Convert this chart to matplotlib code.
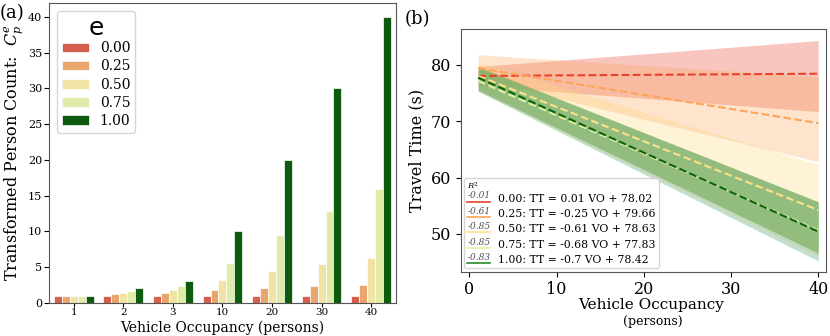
"""Transformed person counts and travel time vs vehicle occupancy."""

import matplotlib
matplotlib.use("Agg")
from matplotlib import pyplot as plt
from matplotlib.legend_handler import HandlerBase
from matplotlib.lines import Line2D
from matplotlib.text import Text
import numpy as np

plt.rcParams["font.family"] = ["DejaVu Serif"]
plt.rcParams["mathtext.fontset"] = "dejavuserif"

# ---- panel (a) data ----
occupancy_labels = ["1", "2", "3", "10", "20", "30", "40"]
e_levels = ["0.00", "0.25", "0.50", "0.75", "1.00"]
counts = {
    "0.00": [1, 1, 1, 1, 1, 1, 1],
    "0.25": [1, 1.19, 1.32, 1.78, 2.11, 2.34, 2.51],
    "0.50": [1, 1.41, 1.73, 3.16, 4.47, 5.48, 6.32],
    "0.75": [1, 1.68, 2.28, 5.62, 9.46, 12.82, 15.9],
    "1.00": [1, 2, 3, 10, 20, 30, 40],
}
bar_colors = ["#d6604d", "#e8a56e", "#f2e2a6", "#e0eaa9", "#0e5a0e"]

# ---- panel (b) data ----
vo_range = [1, 40]
slopes = [0.01, -0.25, -0.61, -0.68, -0.7]
intercepts = [78.02, 79.66, 78.63, 77.83, 78.42]
r2_values = ["-0.01", "-0.61", "-0.85", "-0.85", "-0.83"]
band_low = [[76.3, 71.7], [77.5, 62.8], [75.2, 46.0], [75.3, 45.2], [75.5, 46.6]]
band_high = [[79.7, 84.3], [81.8, 77.9], [80.5, 62.3], [79.5, 55.7], [79.7, 55.7]]
line_colors = ["#e8412c", "#fca55a", "#fde08a", "#e3f0a0", "#0a640a"]
legend_colors = ["#e8412c", "#fca55a", "#fde08a", "#e3f0a0", "#2a8a2a"]
band_colors = ["#e8412c", "#fca55a", "#fdd97a", "#8fbf9f", "#6aa84f"]
band_alphas = [0.3, 0.3, 0.3, 0.5, 0.55]


class HandlerR2(HandlerBase):
    """Legend handle: coloured line with the R^2 value written above it."""

    def __init__(self, r2):
        super().__init__()
        self.r2 = r2

    def create_artists(self, legend, orig_handle, xdescent, ydescent,
                       width, height, fontsize, trans):
        y0 = -ydescent
        line = Line2D([-xdescent, -xdescent + width], [y0, y0],
                      color=orig_handle.get_color(), lw=1.2, transform=trans)
        txt = Text(-xdescent + width / 2, y0 + 0.15 * height, self.r2,
                   ha="center", va="bottom", fontsize=6.5, style="italic",
                   color="0.3", transform=trans)
        return [line, txt]


fig = plt.figure(figsize=(8.3, 3.36), dpi=100)
ax1 = fig.add_axes([0.059, 0.099, 0.418, 0.893])
ax2 = fig.add_axes([0.5554, 0.1914, 0.4394, 0.7214])

# ---- (a) grouped bars ----
x = np.arange(len(occupancy_labels))
bw = 0.8 / len(e_levels)
for i, (e, c) in enumerate(zip(e_levels, bar_colors)):
    ax1.bar(x - 0.4 + bw * (i + 0.5), counts[e], bw, color=c,
            edgecolor="white", linewidth=0.5, label=e)

ax1.set_xticks(x)
ax1.set_xticklabels(occupancy_labels)
ax1.set_xlim(-0.5, 6.5)
ax1.set_ylim(0, 42)
ax1.set_yticks(range(0, 41, 5))
ax1.tick_params(labelsize=8, pad=1.5)
ax1.tick_params(axis="x", labelsize=7.5, pad=1, length=3)
ax1.set_xlabel("Vehicle Occupancy (persons)", fontsize=10)
ax1.xaxis.set_label_coords(0.5, -0.06)
ax1.set_ylabel("Transformed Person Count:  $C_p^e$", fontsize=11.5, labelpad=2)
leg1 = ax1.legend(loc="upper left", fontsize=10, title="e",
                  title_fontproperties={"family": "DejaVu Sans", "size": 18},
                  labelspacing=0.3, handlelength=1.9, handleheight=0.7,
                  handletextpad=0.8, borderaxespad=0.6, borderpad=0.35)
leg1._legend_box.sep = 1

# ---- (b) regression lines with bands ----
vo = np.array(vo_range)
handles = []
for k in range(len(slopes)):
    ax2.fill_between(vo, band_low[k], band_high[k], color=band_colors[k],
                     alpha=band_alphas[k], linewidth=0)
for k in range(len(slopes)):
    ax2.plot(vo, slopes[k] * vo + intercepts[k], "--", color=line_colors[k], lw=1.5)
    label = f"{e_levels[k]}: TT = {slopes[k]:g} VO + {intercepts[k]:.2f}"
    handles.append(Line2D([], [], color=legend_colors[k], label=label))

ax2.set_xlim(-0.97, 40.85)
ax2.set_ylim(43.3, 86.3)
ax2.set_xticks([0, 10, 20, 30, 40])
ax2.set_yticks([50, 60, 70, 80])
ax2.tick_params(labelsize=11.5)
ax2.set_ylabel("Travel Time (s)", fontsize=11.5)
ax2.set_xlabel("Vehicle Occupancy", fontsize=11)
ax2.xaxis.set_label_coords(0.52, -0.11)
fig.text(0.787, 0.042, "(persons)", fontsize=9, ha="center", va="center")
leg2 = ax2.legend(handles=handles, loc="lower left", fontsize=7.8,
                  title="$R^2$", title_fontsize=6,
                  handler_map={h: HandlerR2(r) for h, r in zip(handles, r2_values)},
                  labelspacing=0.5, handlelength=2.1, borderaxespad=0.3,
                  handletextpad=0.7, borderpad=0.3)
leg2._legend_box.align = "left"
leg2._legend_box.sep = 1

for ax in (ax1, ax2):
    for s in ax.spines.values():
        s.set_color("#555555")

fig.text(0.0, 0.96, "(a)", fontsize=13, ha="left", va="center")
fig.text(0.488, 0.944, "(b)", fontsize=13, ha="left", va="center")

fig.savefig("out.png", dpi=100)
